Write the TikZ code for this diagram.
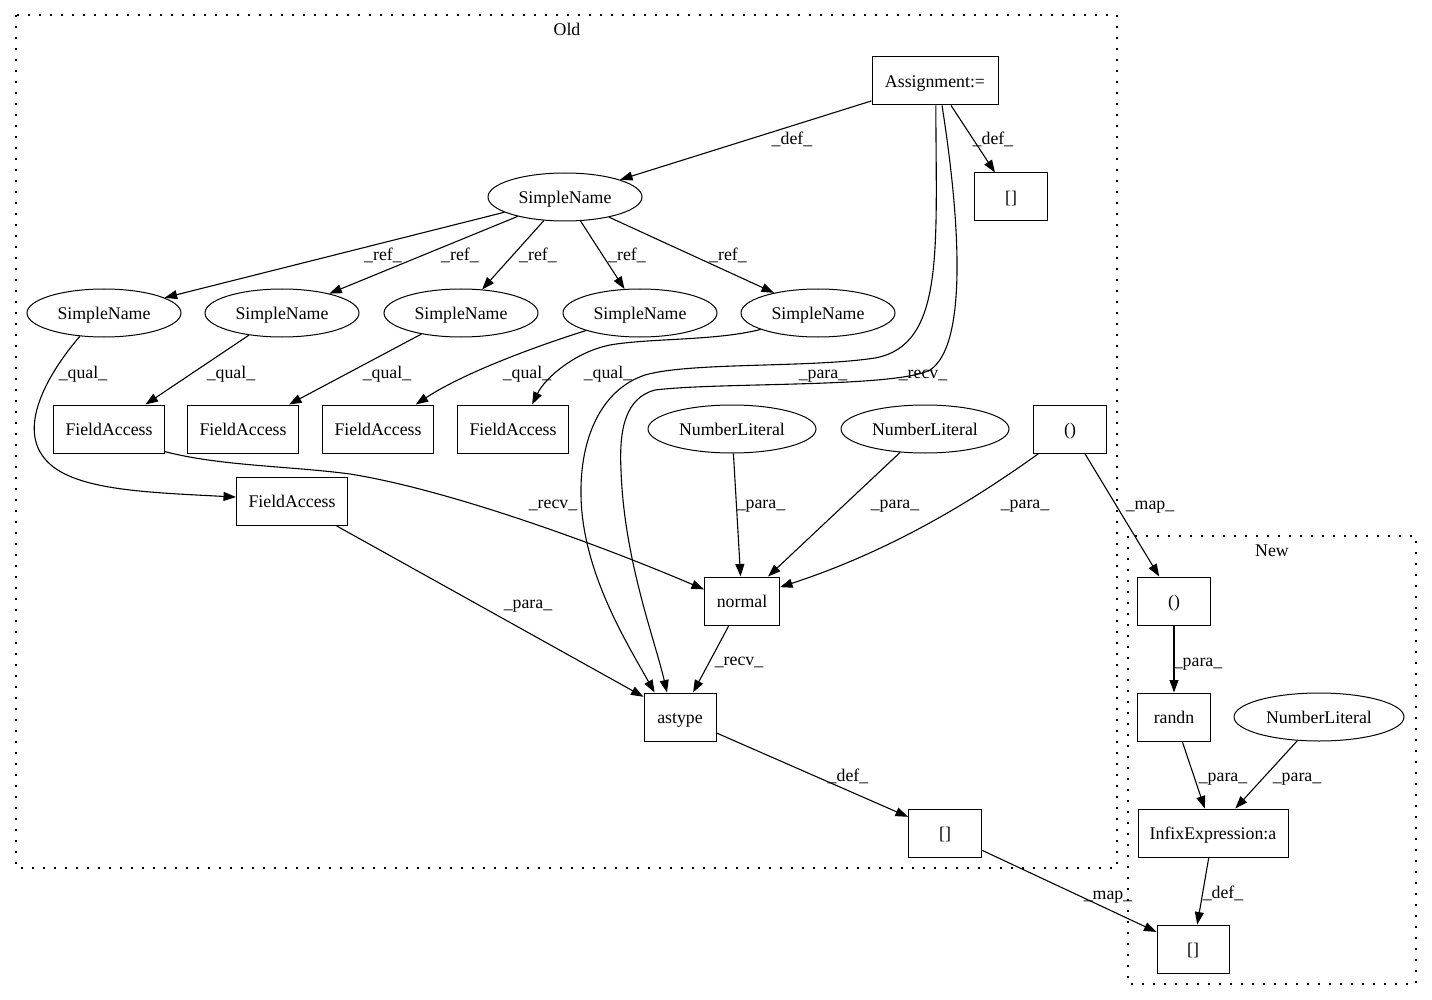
\documentclass[tikz,border=0pt]{standalone}
\usepackage{fontspec}
\setmainfont{Liberation Serif}
\usetikzlibrary{shapes.geometric,arrows.meta}
\begin{document}
\begin{tikzpicture}[x=1pt,y=-1pt,
  font=\fontsize{17.8}{20}\selectfont,
  box/.style={draw,rectangle,line width=1pt,minimum height=48pt,inner sep=0pt,text height=16.6pt,text depth=4pt},
  ell/.style={draw,ellipse,line width=1pt,minimum height=48pt,inner sep=0pt,text height=16.6pt,text depth=4pt},
  lbl/.style={anchor=base,inner sep=0pt},
  arr/.style={-{Triangle[length=12.5pt,width=9pt]},line width=1.1pt},
  cluster/.style={line width=1.4pt,dash pattern=on 2pt off 9pt}]
\useasboundingbox (0,0) rectangle (1432,1000);
% clusters
\draw[cluster] (16,15) rectangle (1117,868);
\draw[cluster] (1128,536) rectangle (1416,984);
\node[lbl] (oldlbl) at (567,36) {Old};
\node[lbl] (newlbl) at (1272,556) {New};
% nodes Old
\node[box,minimum width=126pt] (assign) at (935,81) {Assignment:=};
\node[box,minimum width=73pt] (brA) at (1011,197) {[]};
\node[ell,minimum width=154pt] (sn0) at (565,197) {SimpleName};
\node[ell,minimum width=154pt] (sn1) at (104,313) {SimpleName};
\node[ell,minimum width=154pt] (sn2) at (282,313) {SimpleName};
\node[ell,minimum width=154pt] (sn3) at (461,313) {SimpleName};
\node[ell,minimum width=154pt] (sn4) at (640,313) {SimpleName};
\node[ell,minimum width=154pt] (sn5) at (818,313) {SimpleName};
\node[box,minimum width=111pt] (fa1) at (109,429) {FieldAccess};
\node[box,minimum width=111pt] (fa2) at (243,429) {FieldAccess};
\node[box,minimum width=111pt] (fa3) at (378,429) {FieldAccess};
\node[box,minimum width=111pt] (fa4) at (513,429) {FieldAccess};
\node[box,minimum width=111pt] (fa5) at (292,501) {FieldAccess};
\node[ell,minimum width=168pt] (nl1) at (732,429) {NumberLiteral};
\node[ell,minimum width=168pt] (nl2) at (925,429) {NumberLiteral};
\node[box,minimum width=73pt] (parO) at (1070,429) {()};
\node[box,minimum width=75pt] (normal) at (742,601) {normal};
\node[box,minimum width=72pt] (astype) at (680,717) {astype};
\node[box,minimum width=73pt] (brB) at (945,833) {[]};
% nodes New
\node[box,minimum width=73pt] (parN) at (1174,601) {()};
\node[box,minimum width=73pt] (randn) at (1174,717) {randn};
\node[ell,minimum width=170pt] (nlN) at (1319,717) {NumberLiteral};
\node[box,minimum width=150pt] (infix) at (1213,833) {InfixExpression:a};
\node[box,minimum width=72pt] (brN) at (1193,949) {[]};
% edges
\draw[arr] (assign) -- (sn0);
\node[lbl] at (792,145) {\_def\_};
\draw[arr] (assign) -- (brA);
\node[lbl] at (993,145) {\_def\_};
\draw[arr] (assign.-88) .. controls (936,250) and (945,345) .. (875,358)
   .. controls (810,368) and (690,362) .. (645,375)
   .. controls (600,390) and (580,440) .. (581,495)
   .. controls (582,570) and (625,640) .. (astype.136);
\node[lbl] at (823,378) {\_para\_};
\draw[arr] (assign.-74) .. controls (960,220) and (968,345) .. (930,370)
   .. controls (895,388) and (720,382) .. (655,390)
   .. controls (625,398) and (619,430) .. (621,470)
   .. controls (624,560) and (655,640) .. (astype.118);
\node[lbl] at (923,378) {\_recv\_};
\draw[arr] (sn0) -- (sn1);
\node[lbl] at (383,261) {\_ref\_};
\draw[arr] (sn0) -- (sn2);
\node[lbl] at (460,261) {\_ref\_};
\draw[arr] (sn0) -- (sn3);
\node[lbl] at (538,261) {\_ref\_};
\draw[arr] (sn0) -- (sn4);
\node[lbl] at (627,261) {\_ref\_};
\draw[arr] (sn0) -- (sn5);
\node[lbl] at (728,261) {\_ref\_};
\draw[arr] (sn1.224) .. controls (55,365) and (18,420) .. (42,455)
   .. controls (65,490) and (140,492) .. (fa5.176);
\node[lbl] at (83,378) {\_qual\_};
\draw[arr] (sn2) -- (fa1);
\node[lbl] at (231,378) {\_qual\_};
\draw[arr] (sn3) -- (fa2);
\node[lbl] at (387,378) {\_qual\_};
\draw[arr] (sn4.198) .. controls (540,345) and (465,372) .. (fa3.33);
\node[lbl] at (527,378) {\_qual\_};
\draw[arr] (sn5.196) .. controls (715,341) and (650,338) .. (610,345)
   .. controls (575,352) and (545,378) .. (fa4.52);
\node[lbl] at (608,378) {\_qual\_};
\draw[arr] (fa1.-22) .. controls (220,466) and (290,466) .. (350,474)
   .. controls (450,490) and (600,545) .. (normal.163);
\node[lbl] at (553,508) {\_recv\_};
\draw[arr] (fa5) -- (astype);
\node[lbl] at (528,608) {\_para\_};
\draw[arr] (nl1) -- (normal);
\node[lbl] at (761,508) {\_para\_};
\draw[arr] (nl2) -- (normal);
\node[lbl] at (895,508) {\_para\_};
\draw[arr] (parO.218) .. controls (985,492) and (900,548) .. (normal.20);
\node[lbl] at (1025,508) {\_para\_};
\draw[arr] (normal) -- (astype);
\node[lbl] at (739,665) {\_recv\_};
\draw[arr] (astype) -- (brB);
\node[lbl] at (848,781) {\_def\_};
\draw[arr] (brB) -- (brN);
\node[lbl] at (1108,899) {\_map\_};
\draw[arr] (parO) -- (parN);
\node[lbl] at (1150,509) {\_map\_};
\draw[arr] (parN) -- (randn);
\node[lbl] at (1198,666) {\_para\_};
\draw[arr] (randn) -- (infix);
\node[lbl] at (1223,781) {\_para\_};
\draw[arr] (nlN) -- (infix);
\node[lbl] at (1297,781) {\_para\_};
\draw[arr] (infix) -- (brN);
\node[lbl] at (1223,898) {\_def\_};
\end{tikzpicture}
\end{document}
